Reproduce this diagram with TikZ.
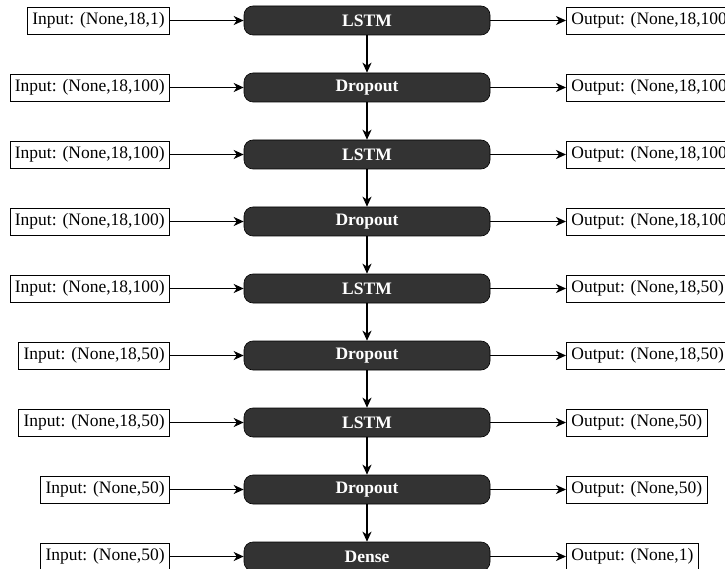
\documentclass[tikz,border=0pt]{standalone}
\usepackage{fontspec}
\setmainfont{Liberation Serif}
\usetikzlibrary{arrows.meta}
\definecolor{layerfill}{HTML}{333333}
\begin{document}
\begin{tikzpicture}[x=1pt,y=-1pt,
  layer/.style={rectangle, rounded corners=9pt, fill=layerfill, draw=black, line width=0.6pt,
    minimum width=246pt, minimum height=29pt, inner sep=0pt, text=white,
    font=\fontsize{17.5}{21}\selectfont\bfseries},
  iobox/.style={rectangle, draw=black, fill=white, line width=0.8pt, minimum height=27pt,
    inner xsep=5pt, inner ysep=0pt, font=\fontsize{17.5}{21}\selectfont},
  inbox/.style={iobox, anchor=east},
  outbox/.style={iobox, anchor=west},
  conn/.style={-{Stealth[length=10pt,width=9pt,inset=3pt]}, line width=1.9pt}]
\useasboundingbox (0,0) rectangle (725,569);
\clip (0,0) rectangle (725,569);
% layers
\node[layer] (L0) at (367,20.5) {LSTM};
\node[layer] (L1) at (367,87.5) {Dropout};
\node[layer] (L2) at (367,154.5) {LSTM};
\node[layer] (L3) at (367,221.5) {Dropout};
\node[layer] (L4) at (367,288.5) {LSTM};
\node[layer] (L5) at (367,355.5) {Dropout};
\node[layer] (L6) at (367,422.5) {LSTM};
\node[layer] (L7) at (367,489.5) {Dropout};
\node[layer] (L8) at (367,556.5) {Dense};
% inputs
\node[inbox] (I0) at (170,20.5) {Input: (None,18,1)};
\node[inbox] (I1) at (170,87.5) {Input: (None,18,100)};
\node[inbox] (I2) at (170,154.5) {Input: (None,18,100)};
\node[inbox] (I3) at (170,221.5) {Input: (None,18,100)};
\node[inbox] (I4) at (170,288.5) {Input: (None,18,100)};
\node[inbox] (I5) at (170,355.5) {Input: (None,18,50)};
\node[inbox] (I6) at (170,422.5) {Input: (None,18,50)};
\node[inbox] (I7) at (170,489.5) {Input: (None,50)};
\node[inbox] (I8) at (170,556.5) {Input: (None,50)};
% outputs
\node[outbox] (O0) at (566,20.5) {Output: (None,18,100)};
\node[outbox] (O1) at (566,87.5) {Output: (None,18,100)};
\node[outbox] (O2) at (566,154.5) {Output: (None,18,100)};
\node[outbox] (O3) at (566,221.5) {Output: (None,18,100)};
\node[outbox] (O4) at (566,288.5) {Output: (None,18,50)};
\node[outbox] (O5) at (566,355.5) {Output: (None,18,50)};
\node[outbox] (O6) at (566,422.5) {Output: (None,50)};
\node[outbox] (O7) at (566,489.5) {Output: (None,50)};
\node[outbox] (O8) at (566,556.5) {Output: (None,1)};
% connectors
\foreach \i in {0,...,8} {
  \draw[conn] (I\i.east) -- (L\i.west);
  \draw[conn] (L\i.east) -- (O\i.west);
}
\foreach \i [count=\j from 1] in {0,...,7} {
  \draw[conn] (L\i.south) -- (L\j.north);
}
\end{tikzpicture}
\end{document}
